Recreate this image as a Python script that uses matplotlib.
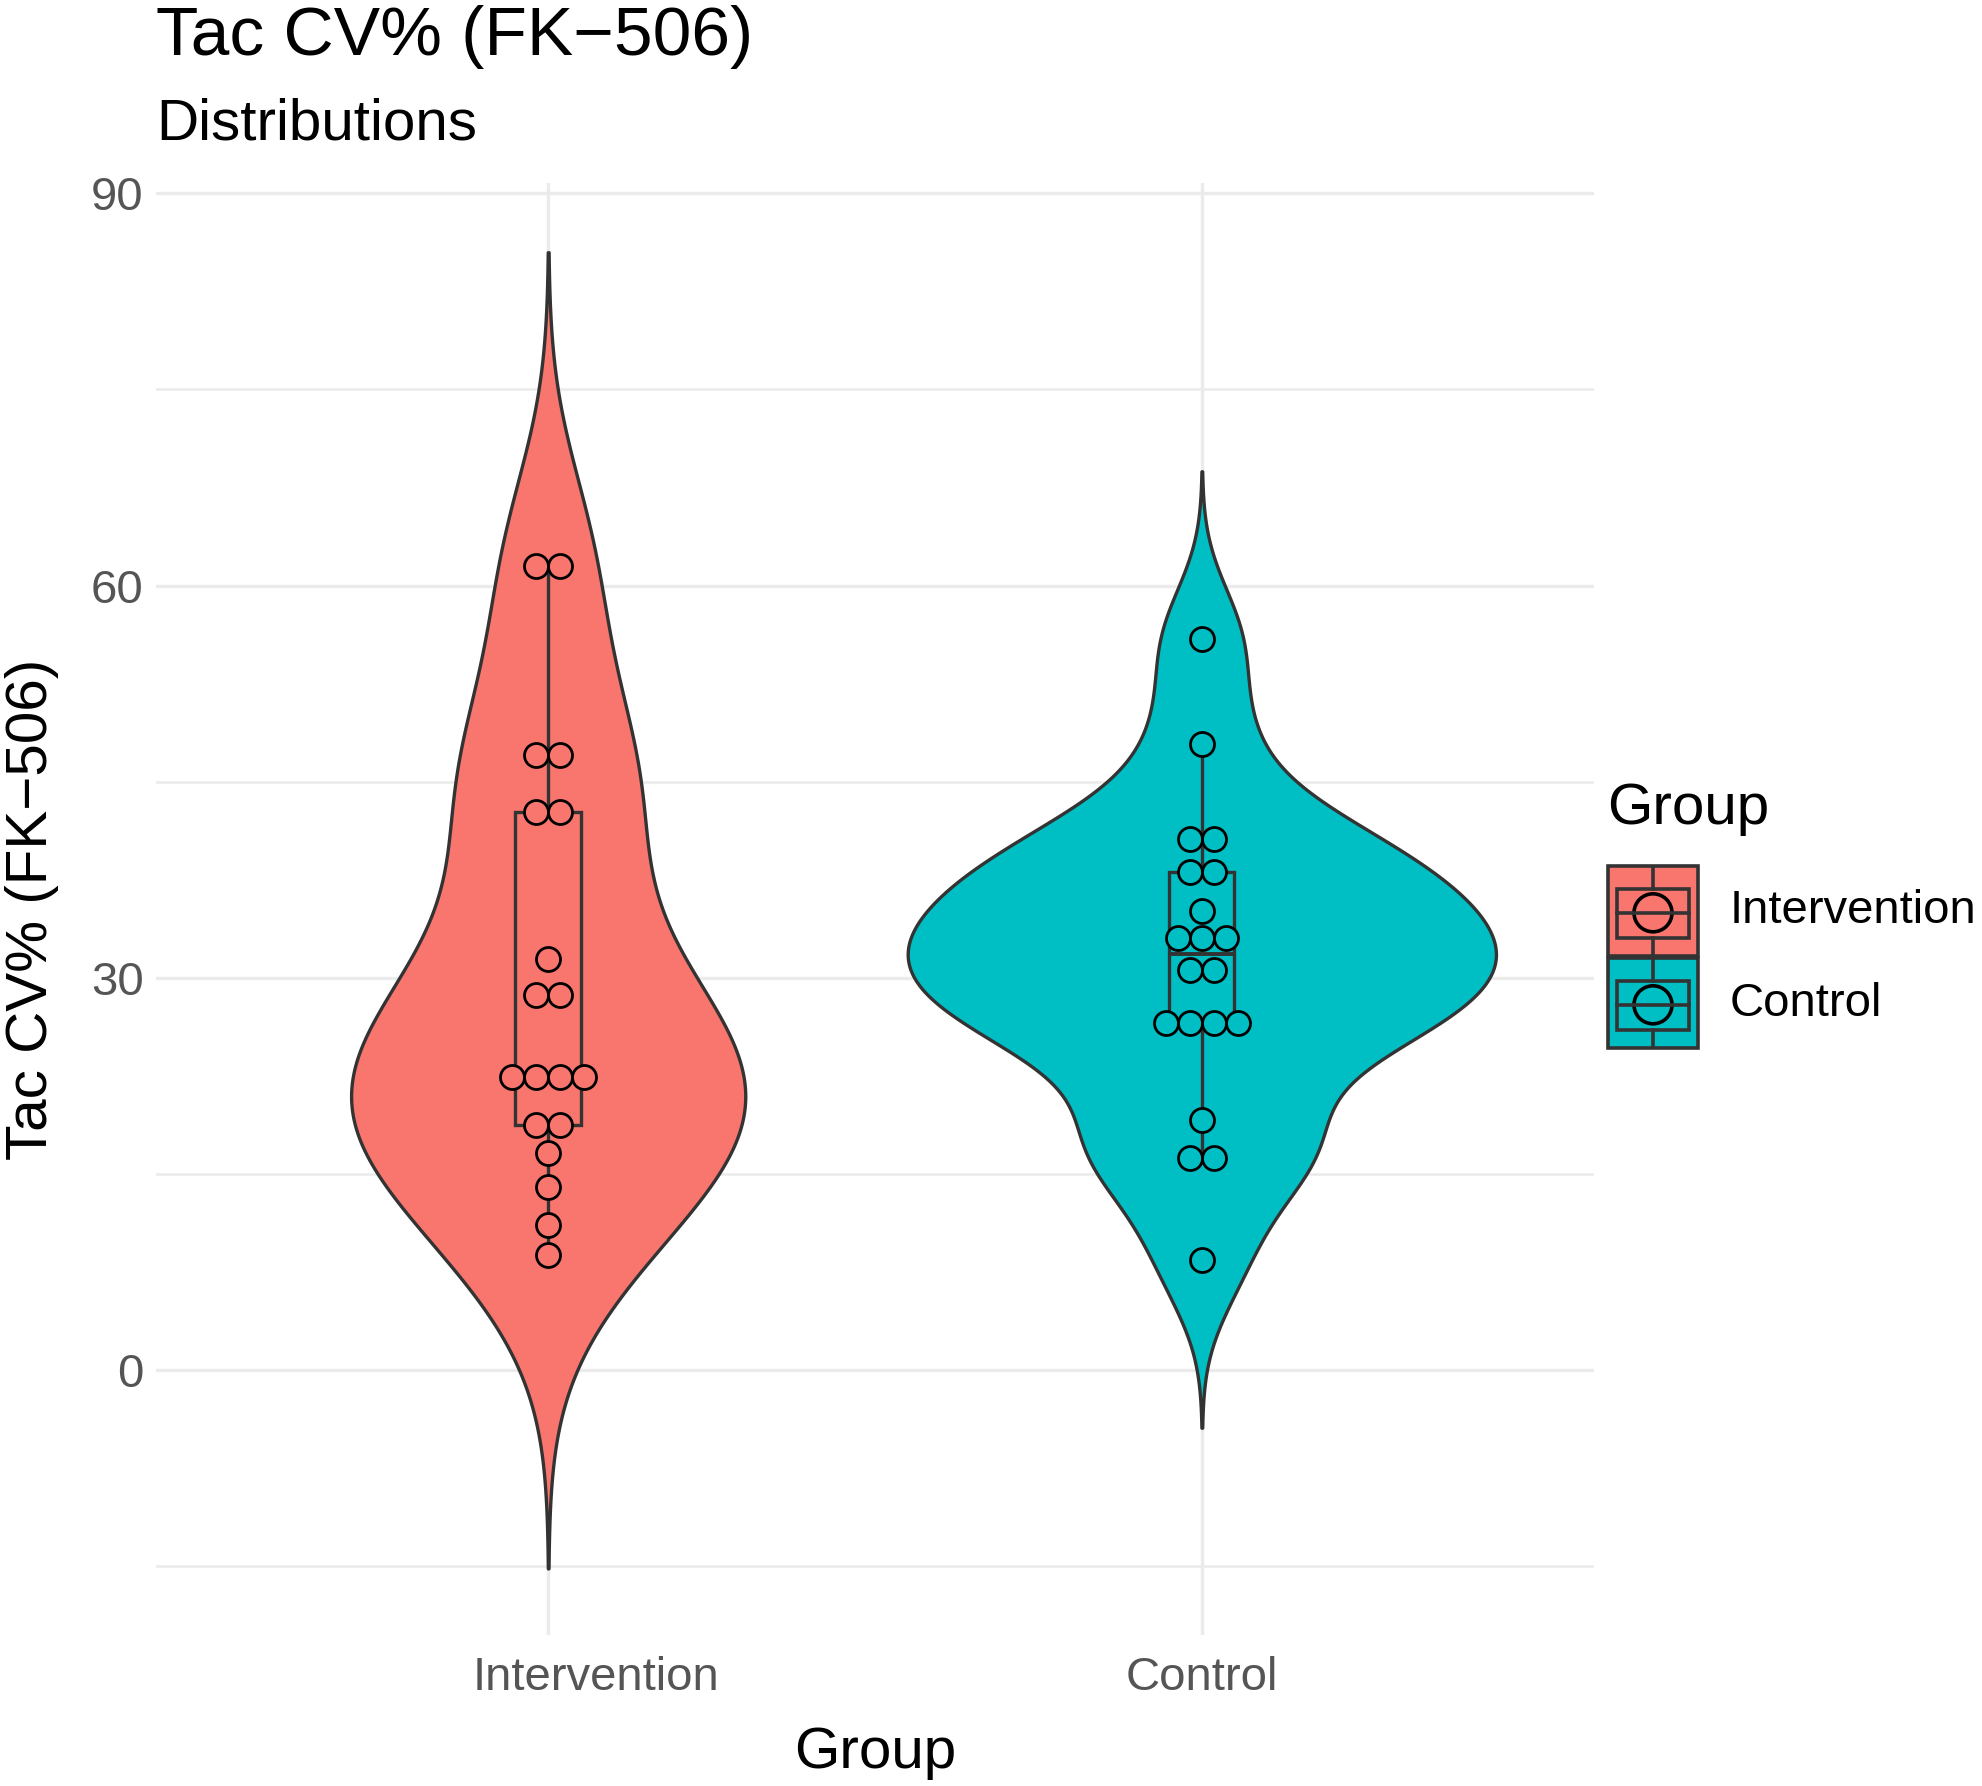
import numpy as np
import matplotlib
matplotlib.use("Agg")
import matplotlib.pyplot as plt
import matplotlib.transforms as mtransforms
from matplotlib.patches import Rectangle, Circle

plt.rcParams['font.family'] = ['Liberation Sans', 'DejaVu Sans']

groups = ['Intervention', 'Control']
colors = ['#F8766D', '#00BFC4']

# dot rows: value and number of dots in the row
interv_vals = [61.5, 47.0, 42.7, 31.4, 28.7, 22.4, 18.7, 16.6, 14.0, 11.1, 8.8]
interv_counts = [2, 2, 2, 1, 2, 4, 2, 1, 1, 1, 1]
control_vals = [55.9, 47.9, 40.6, 38.1, 35.1, 33.0, 30.6, 26.5, 19.1, 16.2, 8.4]
control_counts = [1, 1, 2, 2, 1, 3, 2, 4, 1, 2, 1]

y_ticks = [0, 30, 60, 90]
y_minor = [-15, 15, 45, 75]

W, H = 1983, 1786
fig = plt.figure(figsize=(W / 100, H / 100), dpi=100)
ax_l, ax_r, ax_t, ax_b = 156, 1594, 183, 1635
ax = fig.add_axes([ax_l / W, 1 - ax_b / H, (ax_r - ax_l) / W, (ax_b - ax_t) / H])
ax.set_xlim(0.4, 2.6)
ax.set_ylim(-20.3, 90.8)

edge = '#333333'


def nrd0(x):
    sd = np.std(x, ddof=1)
    q75, q25 = np.percentile(x, [75, 25])
    lo = min(sd, (q75 - q25) / 1.34)
    return 0.9 * lo * len(x) ** -0.2


def kde(x, bw):
    grid = np.linspace(x.min() - 3 * bw, x.max() + 3 * bw, 512)
    d = np.exp(-0.5 * ((grid[:, None] - x[None, :]) / bw) ** 2).sum(1)
    d = d / (len(x) * bw * np.sqrt(2 * np.pi))
    return grid, d


data = [np.repeat(interv_vals, interv_counts), np.repeat(control_vals, control_counts)]
dens = [kde(d, nrd0(d)) for d in data]
dmax = max(d.max() for g, d in dens)

# grid lines
for v in y_ticks:
    ax.axhline(v, color='#EBEBEB', lw=2.4, zorder=0)
for v in y_minor:
    ax.axhline(v, color='#EBEBEB', lw=1.8, zorder=0)
for p in [1, 2]:
    ax.axvline(p, color='#EBEBEB', lw=2.4, zorder=0)

# violins
for i, (g, d) in enumerate(dens):
    pos = i + 1
    hw = 0.45 * d / dmax
    ax.fill_betweenx(g, pos - hw, pos + hw, facecolor=colors[i], edgecolor=edge,
                     lw=2.4, zorder=1)

# boxplots
bp = ax.boxplot(data, positions=[1, 2], widths=0.1, whis=1.5, showfliers=False,
                showcaps=False, patch_artist=True, manage_ticks=False, zorder=2,
                medianprops=dict(color=edge, lw=2.8),
                whiskerprops=dict(color=edge, lw=2.4),
                boxprops=dict(edgecolor=edge, lw=2.4))
for patch, c in zip(bp['boxes'], colors):
    patch.set_facecolor(c)

# dots, stacked around the centre
dot_px = 24
x_unit = dot_px / ((ax_r - ax_l) / 2.2)
dot_s = (dot_px * 72 / 100) ** 2
for i, (vals, counts) in enumerate([(interv_vals, interv_counts), (control_vals, control_counts)]):
    xs, ys = [], []
    for v, n in zip(vals, counts):
        for k in range(n):
            xs.append(i + 1 + (k - (n - 1) / 2) * x_unit)
            ys.append(v)
    ax.scatter(xs, ys, s=dot_s, facecolor=colors[i], edgecolor='black', lw=2.0, zorder=3)

for s in ax.spines.values():
    s.set_visible(False)
ax.set_yticks(y_ticks)
ax.set_yticklabels([str(v) for v in y_ticks])
ax.set_xticks([1, 2])
ax.set_xticklabels(groups)
ax.tick_params(axis='y', length=0, pad=9, labelsize=34, labelcolor='#555555')
ax.tick_params(axis='x', length=0, pad=15, labelsize=34, labelcolor='#555555')
lab = ax.get_xticklabels()[0]
lab.set_transform(lab.get_transform() + mtransforms.ScaledTranslation(0.48, 0, fig.dpi_scale_trans))

# titles
fig.text(ax_l / W, 1 - 55 / H, 'Tac CV% (FK\u2212506)', fontsize=50, va='baseline', ha='left')
fig.text(ax_l / W, 1 - 140 / H, 'Distributions', fontsize=42, va='baseline', ha='left')
fig.text(32 / W, 1 - (ax_t + ax_b) / 2 / H, 'Tac CV% (FK\u2212506)', fontsize=42,
         rotation=90, va='center', ha='center')
fig.text((ax_l + ax_r) / 2 / W, 1 - 1768 / H, 'Group', fontsize=42, va='baseline', ha='center')

# legend
fig.text(1607 / W, 1 - 824 / H, 'Group', fontsize=42, va='baseline', ha='left')
lg = fig.add_axes([1606 / W, 1 - 1052 / H, 94 / W, 188 / H])
lg.set_xlim(0, 94)
lg.set_ylim(188, 0)
lg.axis('off')
for i, c in enumerate(colors):
    top = 2 + i * 92
    lg.add_patch(Rectangle((2, top), 90, 90, facecolor=c, edgecolor=edge, lw=2.6))
    lg.add_patch(Rectangle((2 + 0.1 * 90, top + 0.25 * 90), 0.8 * 90, 0.55 * 90,
                           facecolor=c, edgecolor=edge, lw=2.6))
    lg.plot([47, 47], [top + 0.02 * 90, top + 0.25 * 90], color=edge, lw=2.6)
    lg.plot([47, 47], [top + 0.8 * 90, top + 0.98 * 90], color=edge, lw=2.6)
    lg.plot([2 + 0.1 * 90, 2 + 0.9 * 90], [top + 0.52 * 90, top + 0.52 * 90], color=edge, lw=2.6)
    lg.add_patch(Circle((47, top + 0.52 * 90), 19, facecolor=c, edgecolor='black', lw=2.6))
    fig.text(1730 / W, 1 - (911 + i * 93) / H, groups[i], fontsize=34, va='center', ha='left')

fig.savefig('out.png', dpi=100)
